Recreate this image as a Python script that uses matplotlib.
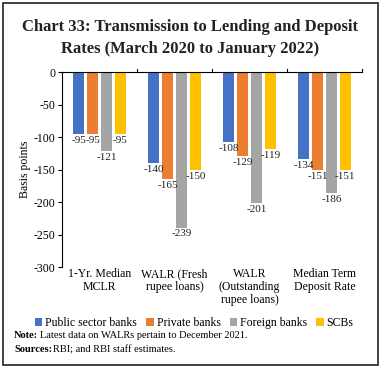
import matplotlib
matplotlib.use("Agg")
import matplotlib.pyplot as plt
import numpy as np
from matplotlib.patches import Rectangle
import matplotlib.transforms as mtrans

categories = ["1-Yr. Median\nMCLR", "WALR (Fresh\nrupee loans)", "WALR\n(Outstanding\nrupee loans)", "Median Term\nDeposit Rate"]
series_names = ["Public sector banks", "Private banks", "Foreign banks", "SCBs"]
public_sector = [-95, -140, -108, -134]
private_banks = [-95, -165, -129, -151]
foreign_banks = [-121, -239, -201, -186]
scbs = [-95, -150, -119, -151]
colors = ["#4472C4", "#ED7D31", "#A5A5A5", "#FFC000"]
yticks = [0, -50, -100, -150, -200, -250, -300]

plt.rcParams['font.family'] = ['Liberation Serif', 'DejaVu Serif']

fig = plt.figure(figsize=(3.81, 3.68), dpi=100)
ax = fig.add_axes([0.163, 0.274, 0.787, 0.530])

series = [public_sector, private_banks, foreign_banks, scbs]
x = np.arange(len(categories))
w = 0.145
step = 0.185
for i, (vals, c, name) in enumerate(zip(series, colors, series_names)):
    xs = x + (i - 1.5) * step
    ax.bar(xs, vals, width=w, color=c, label=name)
    for xi, v in zip(xs, vals):
        ax.text(xi, v - 3, f"{v}", ha="center", va="top", fontsize=8, color="#222222")

ax.set_xlim(-0.5, len(categories) - 0.5)
ax.set_ylim(-300, 0)
ax.set_yticks(yticks)
ax.set_yticklabels([str(t) for t in yticks], fontsize=8.5)
ax.set_ylabel("Basis points", fontsize=8.5, labelpad=2)

for s in ["right", "bottom"]:
    ax.spines[s].set_visible(False)
ax.spines["top"].set_linewidth(0.8)
ax.spines["left"].set_linewidth(0.8)
ax.set_xticks([])
ax.tick_params(axis="y", direction="out", length=3, width=0.8, pad=2)

trans = mtrans.blended_transform_factory(ax.transData, ax.transAxes)
tick_h = 3 / (0.530 * 368)
for b in np.arange(len(categories)) + 0.5:
    ax.plot([b, b], [1.0, 1.0 + tick_h], color="black", linewidth=0.8, transform=trans, clip_on=False)

for xi, cat in zip(x, categories):
    ax.text(xi, -301, cat, ha="center", va="top", fontsize=8.5, linespacing=1.1,
            transform=ax.transData)

fig.text(0.5, 0.897, "Chart 33: Transmission to Lending and Deposit\nRates (March 2020 to January 2022)",
         ha="center", va="center", fontsize=12, fontweight="bold", linespacing=1.45,
         color="#222222")

handles, labels = ax.get_legend_handles_labels()
fig.legend(handles, labels, loc="center", bbox_to_anchor=(0.51, 0.122), ncol=4, fontsize=8.5,
           frameon=False, handlelength=0.6, handleheight=0.6, handletextpad=0.25, columnspacing=0.8)

fig.text(0.037, 0.088, "Note:", fontsize=7.5, va="center", fontweight="bold")
fig.text(0.106, 0.088, "Latest data on WALRs pertain to December 2021.", fontsize=7.5, va="center")
fig.text(0.037, 0.050, "Sources:", fontsize=7.5, va="center", fontweight="bold")
fig.text(0.139, 0.050, "RBI; and RBI staff estimates.", fontsize=7.5, va="center")

fig.add_artist(Rectangle((0.008, 0.008), 0.984, 0.984, transform=fig.transFigure,
                         fill=False, edgecolor="#222222", linewidth=1.2))

fig.savefig("out.png", dpi=100)
